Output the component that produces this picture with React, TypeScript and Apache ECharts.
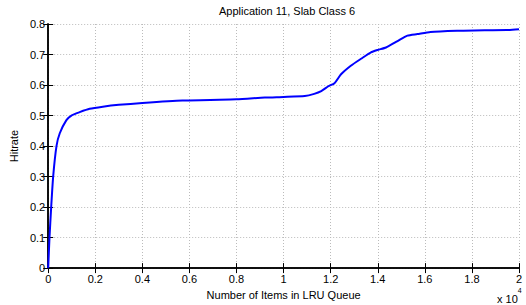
import React, { useEffect, useRef } from "react";
import * as echarts from "echarts";

const itemsCount = [0, 55, 127, 211, 352, 492, 774, 985, 1336, 1758, 2321, 3000, 4000, 5700, 8000, 9200, 10000, 10900, 11300, 11600, 11900, 12160, 12450, 12870, 13290, 13710, 14000, 14350, 14840, 15260, 15680, 16240, 17370, 18100, 19480, 20000];
const hitrate = [0, 0.1, 0.2, 0.3, 0.4, 0.442, 0.485, 0.5, 0.511, 0.522, 0.529, 0.535, 0.541, 0.549, 0.553, 0.559, 0.561, 0.564, 0.571, 0.58, 0.596, 0.606, 0.636, 0.664, 0.686, 0.707, 0.715, 0.723, 0.744, 0.762, 0.767, 0.774, 0.778, 0.779, 0.78, 0.783];

const FONT = "Liberation Sans, Arial, sans-serif";

export default function App() {
  const ref = useRef<HTMLDivElement>(null);
  useEffect(() => {
    const chart = echarts.init(ref.current!, null, { renderer: "svg" });
    const data = itemsCount.map((x, i) => [x, hitrate[i]]);
    const tickStyle = { show: true, inside: true, length: 5, lineStyle: { color: "#000", width: 1 } };
    chart.setOption({
      animation: false,
      backgroundColor: "#fff",
      textStyle: { fontFamily: FONT },
      title: {
        text: "Application 11, Slab Class 6",
        left: 282,
        textAlign: "center",
        top: 0,
        textStyle: { fontSize: 11, fontWeight: "normal", color: "#000", fontFamily: FONT },
      },
      grid: { left: 45, right: 7, top: 24, bottom: 29, containLabel: false },
      xAxis: [
        {
          type: "value",
          min: 0,
          max: 20000,
          interval: 2000,
          name: "Number of Items in LRU Queue",
          nameLocation: "middle",
          nameGap: 13,
          nameTextStyle: { fontSize: 11, color: "#000", fontFamily: FONT },
          axisLine: { show: true, lineStyle: { color: "#000", width: 1.5 } },
          axisTick: tickStyle,
          axisLabel: {
            color: "#000",
            fontSize: 11,
            margin: 5,
            fontFamily: FONT,
            formatter: (v: number) => String(+(v / 10000).toFixed(1)),
          },
          splitLine: { show: true, lineStyle: { color: "#bbb", type: [1, 2], width: 1 } },
        },
        {
          type: "value",
          position: "top",
          min: 0,
          max: 20000,
          interval: 2000,
          axisLine: { show: true, lineStyle: { color: "#000", width: 1.5 } },
          axisTick: tickStyle,
          axisLabel: { show: false },
          splitLine: { show: false },
        },
      ],
      yAxis: [
        {
          type: "value",
          min: 0,
          max: 0.8,
          interval: 0.1,
          name: "Hitrate",
          nameLocation: "middle",
          nameGap: 15,
          nameTextStyle: { fontSize: 11, color: "#000", fontFamily: FONT },
          axisLine: { show: true, lineStyle: { color: "#000", width: 1.5 } },
          axisTick: tickStyle,
          axisLabel: {
            color: "#000",
            fontSize: 11,
            margin: 3,
            fontFamily: FONT,
            formatter: (v: number) => String(+v.toFixed(1)),
          },
          splitLine: { show: true, lineStyle: { color: "#bbb", type: [1, 2], width: 1 } },
        },
        {
          type: "value",
          position: "right",
          min: 0,
          max: 0.8,
          interval: 0.1,
          axisLine: { show: true, lineStyle: { color: "#000", width: 1.5 } },
          axisTick: tickStyle,
          axisLabel: { show: false },
          splitLine: { show: false },
        },
      ],
      graphic: [
        {
          type: "text",
          left: 497,
          top: 287,
          style: {
            text: "{a|x 10}{b|4}",
            rich: {
              a: { fontSize: 11, fill: "#000", fontFamily: FONT, padding: [6, 0, 0, 0] },
              b: { fontSize: 7, fill: "#000", fontFamily: FONT, verticalAlign: "top" },
            },
          },
        },
      ],
      series: [
        {
          type: "line",
          data,
          xAxisIndex: 0,
          yAxisIndex: 0,
          showSymbol: false,
          smooth: 0.2,
          lineStyle: { color: "#0000ff", width: 2 },
          z: 5,
        },
      ],
    });
    return () => chart.dispose();
  }, []);
  return <div ref={ref} style={{ width: 526, height: 305, position: "absolute", left: 0, top: 0 }} />;
}
